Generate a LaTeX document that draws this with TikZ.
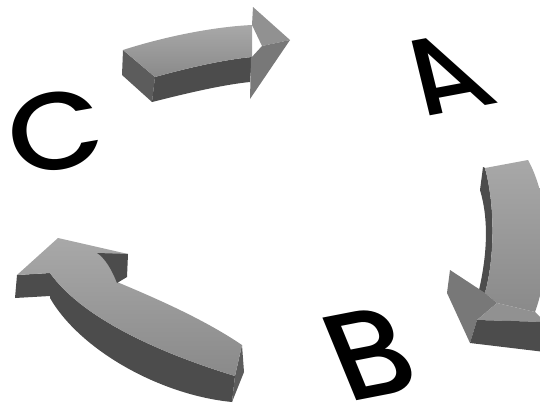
\documentclass[tikz,border=0pt]{standalone}
\usepackage{fontspec}
\newfontfamily\letterfont{Poppins}[UprightFont={* Medium}]
\definecolor{facelight}{gray}{0.60}
\definecolor{facemid}{gray}{0.47}
\definecolor{facedark}{gray}{0.30}
\definecolor{faceend}{gray}{0.36}

\begin{document}
\begin{tikzpicture}[x=0.5pt, y=-0.5pt,
  letter/.style={inner sep=0pt, font=\letterfont\fontsize{#1}{#1}\selectfont},
  topface/.style={top color=facelight!85!white, bottom color=facelight!90!black},
  sideface/.style={fill=facedark},
  endface/.style={fill=faceend},
  flapface/.style={fill=facemid}
]
\useasboundingbox (0,0) rectangle (540,407);
\clip (0,0) rectangle (540,407);

\node[letter=55, rotate=10.6, xslant=-0.41] (a) at (442,75) {A};
\node[letter=63, rotate=11, xslant=-0.2] (b) at (370,354) {B};
\node[letter=55, rotate=10, xscale=1.12] (c) at (56,131) {C};

\fill[endface] (123,50) -- (155,77) -- (152,102) -- (122,75) -- cycle;
\fill[sideface] (155,77) .. controls (180,70) and (220,60) .. (252,57) -- (250,82) .. controls (220,85) and (180,95) .. (152,102) -- cycle;
\shade[topface] (123,50) .. controls (160,38) and (210,27) .. (252,25) -- (252,57) .. controls (220,60) and (180,70) .. (155,77) -- cycle;
\fill[facelight!95!black] (253,7) -- (290,40) -- (262,46) -- (252,25) -- cycle;
\fill[facemid] (262,46) -- (290,40) -- (250,99) -- (251,58) -- cycle;

\fill[sideface] (485,168) .. controls (496,210) and (494,260) .. (485,293) -- (479,290) .. controls (487,255) and (489,220) .. (480,190) -- (483,167) -- cycle;
\shade[topface] (485,168) -- (528,160) .. controls (550,200) and (552,265) .. (535,312) -- (497,303) -- (485,293) .. controls (494,260) and (496,210) .. (485,168) -- cycle;
\fill[flapface] (447,293) -- (450,270) -- (485,293) -- (497,303) -- (477,320) -- (470,343) -- cycle;
\fill[facelight!95!black] (477,320) -- (497,303) -- (535,312) -- (545,322) -- cycle;
\fill[sideface] (477,320) -- (545,322) -- (545,352) -- (470,343) -- cycle;

\fill[sideface] (17,275) -- (50,273) -- (50,296) -- (15,298) -- cycle;
\fill[sideface] (50,273) .. controls (80,315) and (150,350) .. (235,376) -- (232,402) .. controls (160,395) and (80,350) .. (50,298) -- cycle;
\fill[endface] (242,345) -- (244,372) -- (232,402) -- (235,376) -- cycle;
\shade[topface] (17,275) -- (58,238) -- (128,254) -- (117,282) .. controls (160,300) and (205,320) .. (242,345) -- (235,376) .. controls (150,350) and (80,315) .. (50,273) -- cycle;
\fill[sideface] (97,253) -- (128,254) -- (127,277) -- (117,283) .. controls (112,270) and (105,258) .. (97,253) -- cycle;
\end{tikzpicture}
\end{document}
